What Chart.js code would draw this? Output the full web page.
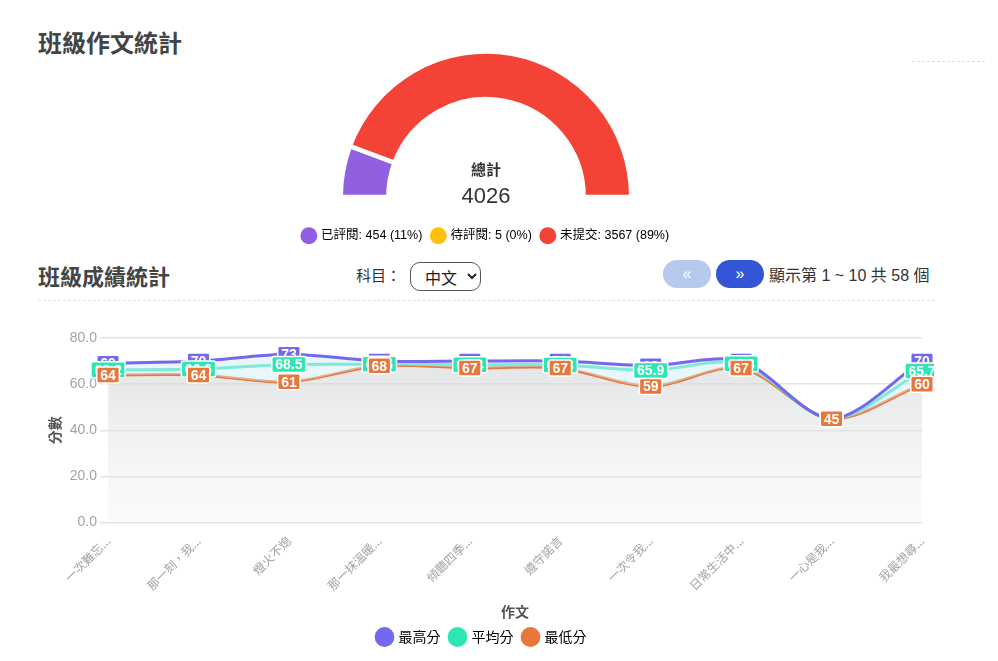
<!DOCTYPE html>
<html>
<head>
<meta charset="utf-8">
<title>班級作文統計</title>
<script src="https://cdn.jsdelivr.net/npm/chart.js@4.4.0/dist/chart.umd.min.js"></script>
<style>
  body {
    margin: 0;
    width: 998px;
    height: 661px;
    background: #fff;
    position: relative;
    overflow: hidden;
    font-family: "Liberation Sans", "Noto Sans CJK TC", sans-serif;
    color: #333;
  }
  .title {
    position: absolute;
    left: 38px;
    font-family: "Noto Sans CJK TC", sans-serif;
    font-weight: bold;
    color: #444;
  }
  .dash {
    position: absolute;
    border-top: 1px dashed #e0e0e0;
    height: 0;
  }
  .subject {
    position: absolute;
    left: 356px;
    top: 264px;
    font-size: 15px;
    line-height: 24px;
  }
  select {
    position: absolute;
    left: 410px;
    top: 262px;
    width: 71px;
    height: 29px;
    border: 1px solid #555;
    border-radius: 10px;
    background: #fff;
    font-family: "Noto Sans CJK TC", sans-serif;
    font-size: 16px;
    padding-left: 10px;
    color: #222;
  }
  .pager {
    position: absolute;
    top: 260px;
    width: 48px;
    height: 28px;
    border: none;
    border-radius: 14px;
    color: #fff;
    font-size: 16px;
    line-height: 26px;
    padding: 0;
  }
  .info {
    position: absolute;
    left: 769px;
    top: 264px;
    font-size: 16px;
    line-height: 24px;
  }
  .box { position: absolute; }
</style>
</head>
<body>

<div class="title" style="top:26px; font-size:24px; line-height:32px">班級作文統計</div>
<div class="dash" style="left:912px; top:61px; width:73px"></div>

<div class="box" style="left:0; top:23px; width:975px; height:229px">
  <canvas id="gaugeChart"></canvas>
</div>

<div class="title" style="top:260px; font-size:22px; line-height:30px">班級成績統計</div>
<div class="subject">科目：</div>
<select><option>中文</option></select>
<button class="pager" style="left:663px; background:#b6caee">«</button>
<button class="pager" style="left:716px; background:#3455d6">»</button>
<div class="info">顯示第 1 ~ 10 共 58 個</div>
<div class="dash" style="left:38px; top:300px; width:897px"></div>

<div class="box" style="left:38px; top:320px; width:924px; height:334px">
  <canvas id="scoreChart"></canvas>
</div>

<script>
// ====== Gauge Data ======
const statusLabels = ["已評閱", "待評閱", "未提交"];
const statusCounts = [454, 5, 3567];
const statusColors = ["#9160e0", "#ffc107", "#f44336"];

// ====== Score Data ======
const essayLabels = [
  "一次難忘...", "那一刻，我...", "燈火不熄", "那一抹溫暖...", "傾聽四季...",
  "遵守諾言", "一次令我...", "日常生活中...", "一心是我...", "我最想尋..."
];
const maxScores = [69, 70, 73, 70, 70, 70, 68, 70, 45, 70];
const avgScores = [66.2, 66.6, 68.5, 68.6, 68.4, 68.3, 65.9, 68.8, 45, 65.7];
const minScores = [64, 64, 61, 68, 67, 67, 59, 67, 45, 60];
const yTicks = [0, 20, 40, 60, 80];

const fontFamily = '"Liberation Sans", "Noto Sans CJK TC", sans-serif';
const cjkFont = '"Noto Sans CJK TC", sans-serif';

// ====== Gauge Center Text ======
const centerText = {
  id: "centerText",
  afterDraw(chart) {
    const arc = chart.getDatasetMeta(0).data[0];
    if (!arc) return;
    const ctx = chart.ctx;
    const total = statusCounts.reduce((a, b) => a + b, 0);
    ctx.save();
    ctx.textAlign = "center";
    ctx.textBaseline = "middle";
    ctx.fillStyle = "#333";
    ctx.font = "bold 15px " + fontFamily;
    ctx.fillText("總計", arc.x, arc.y - 26);
    ctx.font = "22px " + fontFamily;
    ctx.fillText(String(total), arc.x, arc.y);
    ctx.restore();
  }
};

new Chart(document.getElementById("gaugeChart"), {
  type: "doughnut",
  data: {
    labels: statusLabels,
    datasets: [{
      data: statusCounts,
      backgroundColor: statusColors,
      borderColor: "#fff",
      borderWidth: 4
    }]
  },
  options: {
    responsive: true,
    maintainAspectRatio: false,
    animation: false,
    rotation: -90,
    circumference: 180,
    radius: 145,
    cutout: "67.5%",
    layout: { padding: { top: 6, right: 3 } },
    plugins: {
      tooltip: { enabled: false },
      legend: {
        position: "bottom",
        labels: {
          usePointStyle: true,
          pointStyle: "circle",
          boxWidth: 12,
          boxHeight: 12,
          padding: 10,
          color: "#333",
          font: { size: 12.5, family: fontFamily },
          generateLabels(chart) {
            const total = statusCounts.reduce((a, b) => a + b, 0);
            return statusLabels.map((name, i) => ({
              text: `${name}: ${statusCounts[i]} (${Math.round(statusCounts[i] / total * 100)}%)`,
              fillStyle: statusColors[i],
              strokeStyle: statusColors[i],
              lineWidth: 0,
              pointStyle: "circle",
              hidden: false,
              index: i
            }));
          }
        }
      }
    }
  },
  plugins: [centerText]
});

// ====== Value Labels On Points ======
const valueLabels = {
  id: "valueLabels",
  afterDatasetsDraw(chart) {
    const ctx = chart.ctx;
    ctx.save();
    ctx.beginPath();
    ctx.rect(0, 0, 896, chart.height);
    ctx.clip();
    ctx.font = "bold 14px " + fontFamily;
    ctx.textAlign = "center";
    ctx.textBaseline = "middle";
    chart.data.datasets.forEach((ds, di) => {
      const meta = chart.getDatasetMeta(di);
      meta.data.forEach((pt, i) => {
        const text = String(ds.data[i]);
        const w = ctx.measureText(text).width + 7;
        const h = 16;
        ctx.beginPath();
        ctx.roundRect(pt.x - w / 2, pt.y - h / 2, w, h, 2);
        ctx.fillStyle = ds.borderColor;
        ctx.fill();
        ctx.lineWidth = 1.5;
        ctx.strokeStyle = "#fff";
        ctx.stroke();
        ctx.fillStyle = "#fff";
        ctx.fillText(text, pt.x, pt.y + 1);
      });
    });
    ctx.restore();
  }
};

function grayFill(context) {
  const { chart } = context;
  const area = chart.chartArea;
  if (!area) return "rgba(220,222,223,0.6)";
  const g = chart.ctx.createLinearGradient(0, area.top, 0, area.bottom);
  g.addColorStop(0, "rgba(205,208,210,0.65)");
  g.addColorStop(1, "rgba(240,241,241,0.3)");
  return g;
}

new Chart(document.getElementById("scoreChart"), {
  type: "line",
  data: {
    labels: essayLabels,
    datasets: [
      {
        label: "最高分",
        data: maxScores,
        borderColor: "#7467f0",
        backgroundColor: "rgba(210,240,247,0.5)",
        fill: 2,
        borderWidth: 3,
        tension: 0.3,
        pointRadius: 0
      },
      {
        label: "平均分",
        data: avgScores,
        borderColor: "#2ee5b4",
        backgroundColor: "#2ee5b4",
        fill: false,
        borderWidth: 3,
        tension: 0.3,
        pointRadius: 0
      },
      {
        label: "最低分",
        data: minScores,
        borderColor: "#e8773c",
        backgroundColor: grayFill,
        fill: "origin",
        borderWidth: 3,
        tension: 0.3,
        pointRadius: 0
      }
    ]
  },
  options: {
    responsive: true,
    maintainAspectRatio: false,
    animation: false,
    layout: { padding: { top: 18, right: 40, left: 4 } },
    plugins: {
      tooltip: { enabled: false },
      legend: {
        position: "bottom",
        labels: {
          usePointStyle: true,
          pointStyle: "circle",
          boxWidth: 14,
          boxHeight: 14,
          padding: 10,
          color: "#555",
          font: { size: 14, family: cjkFont },
          generateLabels(chart) {
            return chart.data.datasets.map((ds, i) => ({
              text: ds.label,
              fillStyle: ds.borderColor,
              strokeStyle: ds.borderColor,
              lineWidth: 0,
              pointStyle: "circle",
              hidden: false,
              datasetIndex: i
            }));
          }
        }
      }
    },
    scales: {
      x: {
        grid: { display: false },
        border: { display: false },
        ticks: {
          color: "#a0a3a8",
          font: { size: 12, family: cjkFont },
          minRotation: 45,
          maxRotation: 45
        },
        title: {
          display: true,
          text: "作文",
          color: "#555",
          padding: { top: 7, bottom: 0 },
          font: { size: 14, weight: "bold", family: cjkFont }
        }
      },
      y: {
        min: yTicks[0],
        max: yTicks[yTicks.length - 1],
        border: { display: false },
        grid: { color: "#e3e3e3", lineWidth: 1.5 },
        ticks: {
          stepSize: yTicks[1] - yTicks[0],
          padding: 3,
          color: "#a0a3a8",
          font: { size: 14, family: fontFamily },
          callback: v => v.toFixed(1)
        },
        title: {
          display: true,
          text: "分數",
          color: "#555",
          font: { size: 14, weight: "bold", family: cjkFont }
        }
      }
    }
  },
  plugins: [valueLabels]
});
</script>
</body>
</html>
